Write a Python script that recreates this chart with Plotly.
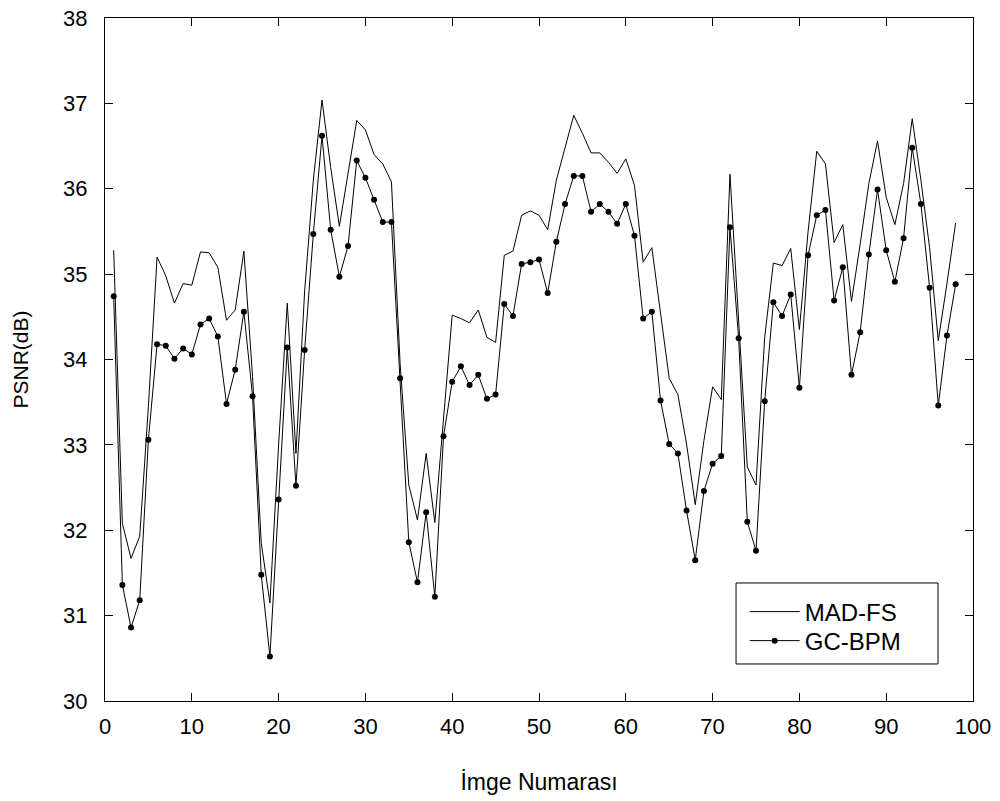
import plotly.graph_objects as go

x_idx = list(range(1, 99))

mad_fs = [35.28, 32.08, 31.67, 31.93, 33.45, 35.20, 34.98, 34.66, 34.89, 34.87,
          35.26, 35.25, 35.08, 34.46, 34.58, 35.27, 33.80, 31.85, 31.15, 33.00,
          34.66, 32.90, 34.80, 36.10, 37.04, 36.25, 35.56, 36.20, 36.80, 36.69,
          36.40, 36.29, 36.08, 33.95, 32.53, 32.12, 32.90, 32.09, 33.35, 34.52,
          34.48, 34.43, 34.58, 34.26, 34.20, 35.22, 35.27, 35.69, 35.74, 35.69,
          35.52, 36.10, 36.48, 36.86, 36.65, 36.42, 36.42, 36.31, 36.18, 36.35,
          36.04, 35.14, 35.31, 34.55, 33.78, 33.59, 33.01, 32.30, 33.05, 33.68,
          33.53, 36.17, 34.50, 32.74, 32.53, 34.26, 35.13, 35.10, 35.30, 34.35,
          35.50, 36.44, 36.29, 35.37, 35.58, 34.68, 35.35, 36.06, 36.56, 35.90,
          35.58, 36.06, 36.82, 36.10, 35.31, 34.22, 34.89, 35.60]

gc_bpm = [34.74, 31.36, 30.86, 31.18, 33.06, 34.18, 34.16, 34.01, 34.13, 34.06,
          34.41, 34.48, 34.27, 33.48, 33.88, 34.56, 33.57, 31.48, 30.52, 32.36,
          34.14, 32.52, 34.11, 35.47, 36.62, 35.52, 34.97, 35.33, 36.33, 36.13,
          35.87, 35.61, 35.61, 33.78, 31.86, 31.39, 32.21, 31.22, 33.10, 33.74,
          33.92, 33.70, 33.82, 33.54, 33.59, 34.65, 34.51, 35.12, 35.14, 35.17,
          34.78, 35.38, 35.82, 36.15, 36.15, 35.73, 35.82, 35.73, 35.59, 35.82,
          35.45, 34.48, 34.56, 33.52, 33.01, 32.90, 32.23, 31.65, 32.46, 32.78,
          32.87, 35.55, 34.25, 32.10, 31.76, 33.51, 34.67, 34.51, 34.76, 33.67,
          35.22, 35.69, 35.75, 34.69, 35.08, 33.82, 34.32, 35.23, 35.99, 35.28,
          34.91, 35.42, 36.48, 35.82, 34.84, 33.46, 34.28, 34.88]

x_ticks = list(range(0, 101, 10))
y_ticks = list(range(30, 39, 1))

font_family = "Liberation Sans, Arial, sans-serif"

fig = go.Figure()
fig.add_trace(go.Scatter(x=x_idx, y=mad_fs, mode="lines", name="MAD-FS",
                         line=dict(color="black", width=1), legend="legend"))
fig.add_trace(go.Scatter(x=x_idx, y=gc_bpm, mode="lines+markers", name="GC-BPM",
                         line=dict(color="black", width=1),
                         marker=dict(color="black", size=6, symbol="circle"),
                         legend="legend2"))

axis_common = dict(showgrid=False, zeroline=False, showline=True, linecolor="black",
                   linewidth=1, mirror="ticks", ticks="inside", ticklen=8,
                   tickcolor="black", tickwidth=1, automargin=False,
                   ticklabeloverflow="allow",
                   tickfont=dict(family=font_family, size=22, color="black"))

fig.update_xaxes(range=[0, 100], tickvals=x_ticks, ticktext=[str(v) for v in x_ticks],
                 ticklabelstandoff=6,
                 title=dict(text="İmge Numarası", standoff=35,
                            font=dict(family=font_family, size=23, color="black")),
                 **axis_common)
fig.update_yaxes(range=[30, 38], tickvals=y_ticks, ticktext=[str(v) for v in y_ticks],
                 ticklabelstandoff=12,
                 title=dict(text="PSNR(dB)", standoff=28,
                            font=dict(family=font_family, size=21, color="black")),
                 **axis_common)

legend_common = dict(xanchor="left", yanchor="middle", bgcolor="rgba(0,0,0,0)",
                     borderwidth=0, itemwidth=50,
                     font=dict(family=font_family, size=24, color="black"))

fig.update_layout(
    width=1000, height=801,
    margin=dict(l=105, r=27, t=18, b=100),
    paper_bgcolor="white", plot_bgcolor="white",
    showlegend=True,
    legend=dict(x=0.737, y=0.1303, **legend_common),
    legend2=dict(x=0.737, y=0.0878, **legend_common),
    shapes=[dict(type="rect", xref="paper", yref="paper",
                 x0=0.727, x1=0.9597, y0=0.0542, y1=0.1728,
                 line=dict(color="black", width=1), fillcolor="white", layer="above")],
)

fig.write_html("out.html",
               config={"displayModeBar": False},
               post_script="document.body.style.margin='0';document.body.style.overflow='hidden';")
